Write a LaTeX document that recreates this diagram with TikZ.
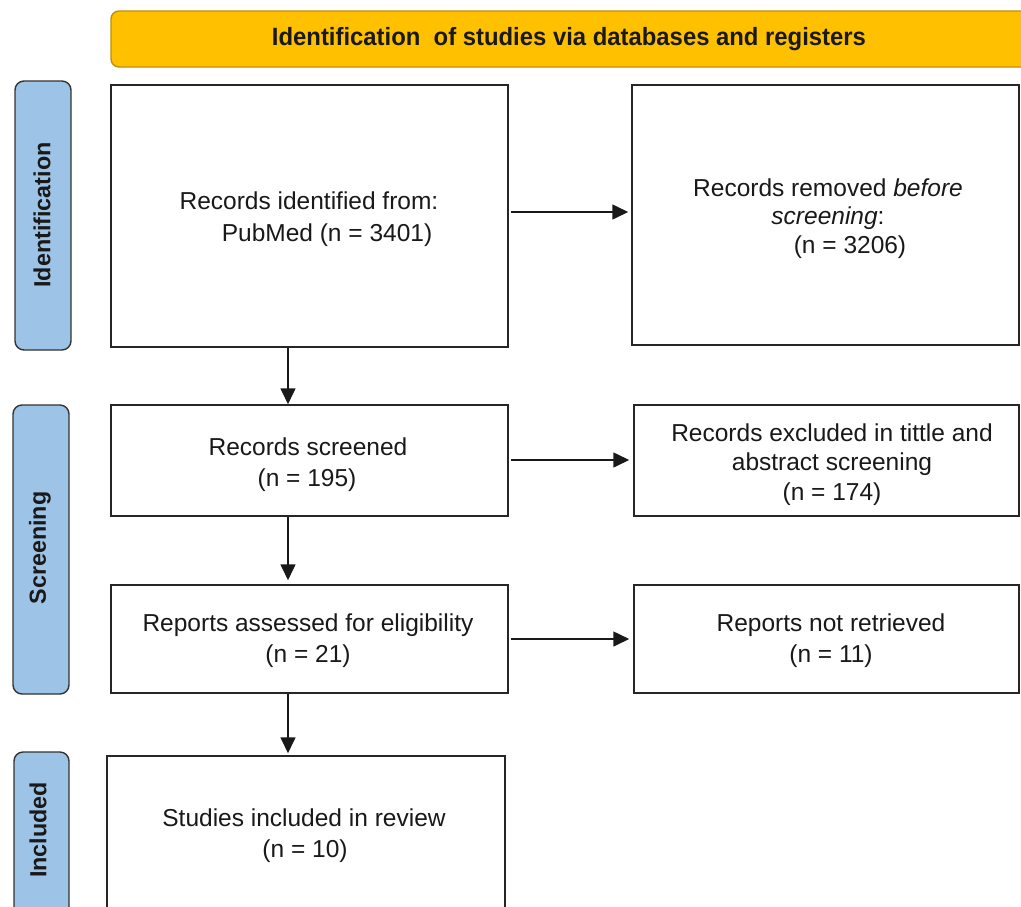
\documentclass[tikz,border=0pt]{standalone}
\usepackage{fontspec}
\setmainfont{Liberation Sans}
\usetikzlibrary{arrows.meta}
\definecolor{bannerfill}{HTML}{FFC000}
\definecolor{bannerdraw}{HTML}{C09000}
\definecolor{phasefill}{HTML}{9DC3E6}
\begin{document}
\begin{tikzpicture}[x=1pt,y=-1pt,
  box/.style={draw=black!85, line width=1.5pt, fill=white, inner sep=0pt, rectangle},
  phase/.style={draw=black!80, line width=1.4pt, fill=phasefill, rounded corners=9pt, inner sep=0pt, rectangle},
  banner/.style={draw=bannerdraw, line width=1.4pt, fill=bannerfill, rounded corners=8pt, inner sep=0pt, rectangle},
  txt/.style={font=\fontsize{24.5}{30}\selectfont, inner sep=0pt, anchor=base, text=black!90},
  ptxt/.style={font=\fontsize{23.3}{28}\selectfont\bfseries, inner sep=0pt, rotate=90, text=black!90},
  arr/.style={-{Triangle[length=16pt,width=15pt]}, line width=1.6pt, draw=black!90}]
\useasboundingbox (0,0) rectangle (1021,906);
\clip (0,0) rectangle (1021,906);

% banner
\node[banner, minimum width=924pt, minimum height=56pt] (ban) at (573,39) {};
\node[font=\fontsize{25}{30}\selectfont\bfseries, inner sep=0pt, text=black!90] (bant) at (569,39)
  {\resizebox{594pt}{\height}{Identification\ \ of studies via databases and registers}};

% phase labels
\node[phase, minimum width=56pt, minimum height=269pt] (l1) at (43,215.5) {};
\node[ptxt] (l1t) at (42,215) {Identification};
\node[phase, minimum width=56pt, minimum height=289pt] (l2) at (41,549.5) {};
\node[ptxt] (l2t) at (40,548) {Screening};
\node[phase, minimum width=55pt, minimum height=178pt] (l3) at (41.5,841) {};
\node[ptxt] (l3t) at (38,830) {Included};

% boxes
\node[box, minimum width=397pt, minimum height=262pt] (b1) at (309.5,216) {};
\node[box, minimum width=387pt, minimum height=260pt] (b2) at (825.5,215) {};
\node[box, minimum width=397pt, minimum height=111pt] (b3) at (309.5,460.5) {};
\node[box, minimum width=385pt, minimum height=111pt] (b4) at (826.5,460.5) {};
\node[box, minimum width=397pt, minimum height=108pt] (b5) at (309.5,639) {};
\node[box, minimum width=385pt, minimum height=108pt] (b6) at (826.5,639) {};
\node[box, minimum width=398pt, minimum height=164pt] (b7) at (306,838) {};

% texts
\node[txt] (b1a) at (309,209) {Records identified from:};
\node[txt] (b1b) at (327,241) {PubMed (n = 3401)};
\node[txt] (b2a) at (828,196) {Records removed \textit{before}};
\node[txt] (b2b) at (828,224) {\textit{screening}:};
\node[txt] (b2c) at (850,253) {(n = 3206)};
\node[txt] (b3a) at (308,455) {Records screened};
\node[txt] (b3b) at (307,486) {(n = 195)};
\node[txt] (b4a) at (832,441) {Records excluded in tittle and};
\node[txt] (b4b) at (832,470) {abstract screening};
\node[txt] (b4c) at (832,500) {(n = 174)};
\node[txt] (b5a) at (308,631) {Reports assessed for eligibility};
\node[txt] (b5b) at (308,662) {(n = 21)};
\node[txt] (b6a) at (831,631) {Reports not retrieved};
\node[txt] (b6b) at (831,662) {(n = 11)};
\node[txt] (b7a) at (304,826) {Studies included in review};
\node[txt] (b7b) at (305,857) {(n = 10)};

% connectors
\coordinate (v) at (288,0);
\draw[arr, shorten <=2pt, shorten >=3pt] ([yshift=4pt]b1.east) -- ([yshift=4pt]b1.east -| b2.west);
\draw[arr, shorten <=2pt, shorten >=4pt] ([yshift=0.5pt]b3.east) -- ([yshift=0.5pt]b3.east -| b4.west);
\draw[arr, shorten <=2pt, shorten >=4pt] (b5.east) -- (b5.east -| b6.west);
\draw[arr] (b1.south -| v) -- (b3.north -| v);
\draw[arr, shorten >=4pt] (b3.south -| v) -- (b5.north -| v);
\draw[arr, shorten >=2pt] (b5.south -| v) -- (b7.north -| v);
\end{tikzpicture}
\end{document}
